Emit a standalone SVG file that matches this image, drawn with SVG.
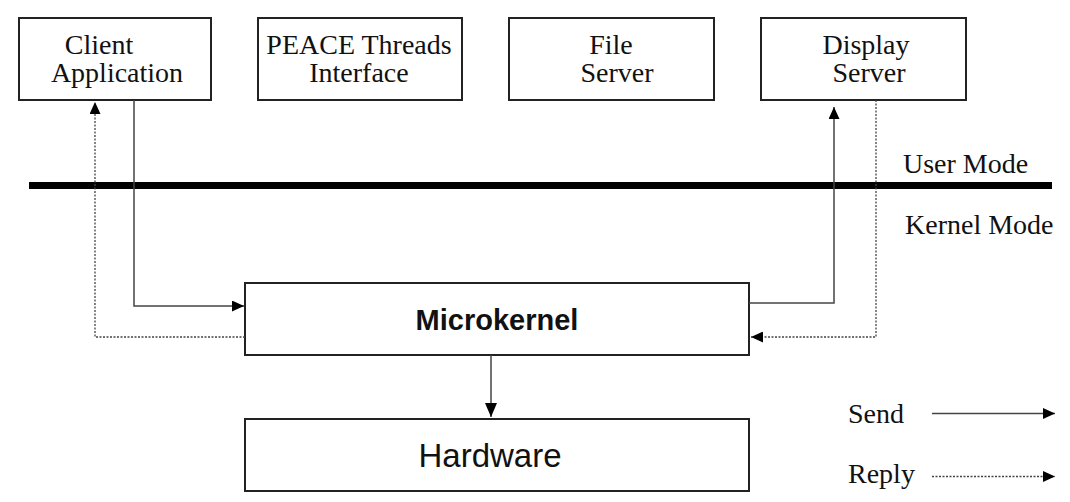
<svg xmlns="http://www.w3.org/2000/svg" width="1070" height="502" viewBox="0 0 1070 502">
<style>
.box{fill:#fff;stroke:#222;stroke-width:2}
.t{font-family:"Liberation Serif","Times New Roman",serif;font-size:28px;fill:#111}
.s{font-family:"Liberation Sans",Arial,sans-serif;fill:#111}
.send{fill:none;stroke:#444;stroke-width:1.5}
.reply{fill:none;stroke:#444;stroke-width:1.3;stroke-dasharray:2 1.5}
</style>
<defs>
<marker id="ah" viewBox="0 0 12 11" refX="12" refY="5.5" markerWidth="12" markerHeight="11" markerUnits="userSpaceOnUse" orient="auto">
<path d="M0,0 L12,5.5 L0,11 Z" fill="#000"/>
</marker>
<marker id="ah2" viewBox="0 0 14 12" refX="14" refY="6" markerWidth="14" markerHeight="12" markerUnits="userSpaceOnUse" orient="auto">
<path d="M0,0 L14,6 L0,12 Z" fill="#000"/>
</marker>
</defs>
<g id="client">
<rect class="box" x="19" y="18" width="192" height="82"/>
<text class="t" x="99" y="54" text-anchor="middle">Client</text>
<text class="t" x="117" y="82" text-anchor="middle">Application</text>
</g>
<g id="peace">
<rect class="box" x="258" y="18" width="204" height="82"/>
<text class="t" x="359" y="54" text-anchor="middle">PEACE Threads</text>
<text class="t" x="359" y="82" text-anchor="middle">Interface</text>
</g>
<g id="file">
<rect class="box" x="509" y="18" width="205" height="82"/>
<text class="t" x="611" y="54" text-anchor="middle">File</text>
<text class="t" x="617" y="82" text-anchor="middle">Server</text>
</g>
<g id="display">
<rect class="box" x="761" y="18" width="205" height="82"/>
<text class="t" x="866" y="54" text-anchor="middle">Display</text>
<text class="t" x="869" y="82" text-anchor="middle">Server</text>
</g>
<g id="boundary">
<line x1="29" y1="185.5" x2="1052" y2="185.5" stroke="#000" stroke-width="7"/>
<text class="t" x="903" y="173">User Mode</text>
<text class="t" x="905" y="234">Kernel Mode</text>
</g>
<g id="microkernel">
<rect class="box" x="245" y="283" width="504" height="72"/>
<text class="s" x="497" y="330" text-anchor="middle" font-size="29" font-weight="bold">Microkernel</text>
</g>
<g id="hardware">
<rect class="box" x="245" y="419" width="504" height="72"/>
<text class="s" x="490" y="467" text-anchor="middle" font-size="33">Hardware</text>
</g>
<g id="connectors">
<polyline class="send" points="134,100 134,306 244,306" marker-end="url(#ah)"/>
<polyline class="reply" points="245,337 95,337 95,102" marker-end="url(#ah)"/>
<polyline class="send" points="749,303 834,303 834,107" marker-end="url(#ah)"/>
<polyline class="reply" points="876,100 876,337 751,337" marker-end="url(#ah)"/>
<line class="send" x1="491" y1="355" x2="491" y2="417" marker-end="url(#ah2)"/>
</g>
<g id="legend">
<text class="t" x="848" y="423">Send</text>
<text class="t" x="848" y="483">Reply</text>
<line class="send" x1="932" y1="413.5" x2="1055" y2="413.5" marker-end="url(#ah)"/>
<line class="reply" x1="932" y1="476.5" x2="1055" y2="476.5" marker-end="url(#ah)"/>
</g>
</svg>
